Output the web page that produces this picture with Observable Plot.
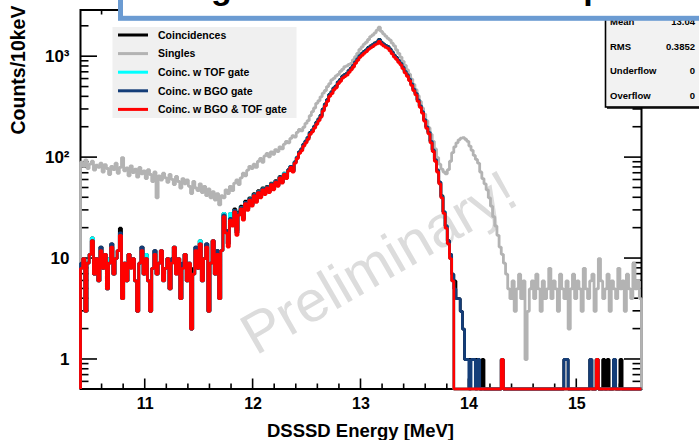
<!DOCTYPE html>
<html>
<head>
<meta charset="utf-8">
<script src="https://cdn.jsdelivr.net/npm/d3@7"></script>
<script src="https://cdn.jsdelivr.net/npm/@observablehq/plot@0.6"></script>
<style>
  body { margin: 0; background: #fff; }
  #chart svg { display: block; }
</style>
</head>
<body>
<div id="chart"></div>
<script>
// DSSSD energy spectra: 20 keV bins starting at 10.40 MeV (260 bins up to 15.60 MeV)
const binStart = 10.40;
const binWidth = 0.02;

const singles = [
  90,82,95,78,86,92,75,84,80,88, 72,85,78,68,82,76,88,70,80,100,
  74,79,66,83,71,77,64,80,69,74, 62,76,68,58,72,40,66,60,70,63,
  57,68,61,54,65,58,50,62,55,60, 52,44,58,50,47,55,45,52,42,49,
  40,46,38,44,34,42,
  40,48,44,52,47,56,60,54,63,70, 66,75,82,78,86,80,92,98,90,104,
  110,102,114,108,120,115,128,122,136,145, 140,155,165,160,178,190,
  184,200,218,232,260,285,310,345,366,400, 435,462,505,540,588,610,645,668,715,750,
  795,810,840,860,930,1000,1080,1180,1250,1330, 1390,1480,1580,1640,1720,1830,1960,1780,1680,1600,
  1520,1460,1360,1280,1170,1080,990,900,820,740, 670,600,530,470,410,360,310,270,232,198,
  170,145,122,100,86,77,72,69,76,92, 112,
  128,140,150,156,158,152,145,130,118,105, 96,88,72,62,55,48,40,33,26,21, 17,13,11,9,7,
  5,4,6,3,5,7,4,6,1,3, 5,6,4,7,5,3,6,4,5,8, 4,6,5,3,7,5,4,6,2,5,
  7,4,6,5,3,8,5,4,6,7, 3,5,10,6,4,5,7,3,6,5, 4,8,5,6,3,7,5,4,9,5, 6,4
];

const coincidences = [
  9,10,3,9,11,16,7,10,6,13, 8,11,5,10,14,7,10,12,20,4, 9,6,11,9,10,6,3,9,13,7,
  11,6,3,8,12,7,9,12,7,8, 10,5,10,13,8,10,4,9,11,6, 9,2,8,13,8,15,6,10,14,3,
  9,15,7,12,4,12,
  28,19,14,28,23,31,19,29,33,26, 37,32,40,35,44,38,47,42,50,45, 52,47,56,50,59,54,65,58,70,64,
  76,82,75,91,101,114,
  122,136,146,159,178,188,205,224,242,263, 303,340,376,423,449,491,514,564,596,640,
  664,684,732,773,826,899,961,1029,1076,1129, 1170,1233,1275,1317,1369,1400,1484,1390,1338,1296,
  1264,1191,1113,1035,982,920,867,794,721,669, 606,543,481,437,376,329,288,240,204,180,
  146,120,96,75,57,42,29,21,15,11, 7,
  6,4,4,3,2,1,1,1,1,1, 1,1,0,1,0,0,0,0,0,0, 0,0,1,0,0,0,0,0,0,0,
  0,0,0,0,0,0,0,0,0,0, 0,0,0,0,0,0,0,0,0,0, 0,1,1,0,0,0,0,0,0,0,
  0,0,0,1,0,0,1,0,0,1, 0,1,0,0,1,0,0,1,0,0, 0,0,0,0,0,0,0
];

const coincTOF = [
  8,10,3,9,11,16,7,10,6,12, 8,11,5,10,13,7,10,12,17,4, 9,6,11,8,10,6,3,9,12,7,
  11,6,3,8,11,7,9,12,6,8, 10,5,9,13,8,10,4,8,11,6, 9,2,7,12,8,15,6,10,13,3,
  9,15,7,11,4,12,
  28,18,14,28,22,30,18,28,32,25, 36,31,39,34,43,37,46,41,49,44, 51,46,55,49,58,53,64,57,70,63,
  75,82,74,90,100,112,
  120,133,144,156,174,185,201,219,238,258, 297,333,369,415,441,482,504,554,584,627,
  651,671,718,759,810,882,943,1010,1056,1107, 1148,1210,1251,1292,1343,1374,1456,1363,1312,1271,
  1240,1169,1092,1015,964,902,851,779,707,656, 595,533,472,428,369,323,283,236,200,176,
  144,118,94,74,56,41,29,21,14,10, 6,
  0,0,0,0,0,0,0,0,0,0, 0,0,0,0,0,0,0,0,0,0, 0,0,1,0,0,0,0,0,0,0,
  0,0,0,0,0,0,0,0,0,0, 0,0,0,0,0,0,0,0,0,0, 0,0,0,0,0,0,0,0,0,0,
  0,0,0,0,0,0,1,0,0,0, 0,0,0,0,0,0,0,0,0,0, 0,0,0,0,0,0,0
];

const coincBGO = [
  9,10,3,9,11,15,7,10,6,13, 8,11,5,9,14,7,10,12,18,4, 9,6,11,9,10,6,3,9,13,7,
  10,6,3,8,12,7,9,12,6,8, 10,5,10,13,7,10,4,9,11,6, 9,2,7,13,8,14,6,10,14,3,
  9,15,7,12,4,12,
  27,19,14,25,22,30,18,28,32,25, 36,31,39,34,43,37,46,41,49,44, 51,46,55,49,58,53,64,57,69,63,
  76,82,73,90,100,113,
  121,135,145,157,176,186,203,221,240,261, 300,336,373,419,445,486,509,559,590,633,
  657,678,725,766,818,890,952,1019,1066,1118, 1159,1221,1263,1304,1356,1387,1470,1377,1325,1283,
  1252,1180,1102,1025,973,911,859,787,714,662, 600,538,476,433,373,326,286,238,202,178,
  145,119,95,75,57,41,29,21,15,11, 7,
  5,4,4,3,2,1,1,0,1,1, 0,1,0,0,0,0,0,0,0,0, 0,0,1,0,0,0,0,0,0,0,
  0,0,0,0,0,0,0,0,0,0, 0,0,0,0,0,0,0,0,0,0, 0,1,1,0,0,0,0,0,0,0,
  0,0,0,1,0,0,1,0,0,0, 0,0,0,0,1,0,0,0,0,0, 0,0,0,0,0,0,0
];

const coincBGOTOF = [
  8,10,3,9,11,15,7,10,6,12, 8,11,5,9,13,7,10,12,17,4, 9,6,11,8,10,6,3,9,12,7,
  10,6,3,8,11,7,9,12,6,8, 10,5,9,13,7,10,4,8,11,6, 9,2,7,12,8,14,6,10,13,3,
  9,15,7,11,4,12,
  26,18,13,24,21,29,17,27,31,24, 35,30,38,33,42,36,45,40,48,43, 50,45,54,48,57,52,63,56,68,62,
  74,80,72,88,98,110,
  117,130,140,152,170,180,196,214,232,252, 290,325,360,405,430,470,492,540,570,612,
  635,655,700,740,790,860,920,985,1030,1080, 1120,1180,1220,1260,1310,1340,1420,1330,1280,1240,
  1210,1140,1065,990,940,880,830,760,690,640, 580,520,460,418,360,315,276,230,195,172,
  140,115,92,72,55,40,28,20,14,10, 6,
  0,0,0,0,0,0,0,0,0,0, 0,0,0,0,0,0,0,0,0,0, 0,0,1,0,0,0,0,0,0,0,
  0,0,0,0,0,0,0,0,0,0, 0,0,0,0,0,0,0,0,0,0, 0,0,0,0,0,0,0,0,0,0,
  0,0,0,0,0,0,1,0,0,0, 0,0,0,0,0,0,0,0,0,0, 0,0,0,0,0,0,0
];

const seriesNames = ["Coincidences", "Singles", "Coinc. w TOF gate", "Coinc. w BGO gate", "Coinc. w BGO & TOF gate"];
const seriesColors = ["#000000", "#b3b3b3", "#00ffff", "#143d78", "#ff0000"];
const seriesCounts = [coincidences, singles, coincTOF, coincBGO, coincBGOTOF];

const xTickValues = [11, 12, 13, 14, 15];
const xTickLabels = ["11", "12", "13", "14", "15"];
const xMinorTicks = [10.6, 10.8, 11.2, 11.4, 11.6, 11.8, 12.2, 12.4, 12.6, 12.8, 13.2, 13.4, 13.6, 13.8,
                     14.2, 14.4, 14.6, 14.8, 15.2, 15.4];
const yTickValues = [1, 10, 100, 1000];
const yTickLabels = ["1", "10", "10²", "10³"];
const yMinorTicks = [0.6, 0.7, 0.8, 0.9, 2, 3, 4, 5, 6, 7, 8, 9, 20, 30, 40, 50, 60, 70, 80, 90,
                     200, 300, 400, 500, 600, 700, 800, 900, 2000];

const statNames = ["Mean", "RMS", "Underflow", "Overflow"];
const statValues = ["13.04", "0.3852", "0", "0"];

const yMin = 0.51, yMax = 2900;
const font = "'Liberation Sans', Arial, Helvetica, sans-serif";

// ROOT-style step outline: rises from the floor at the first edge, drops back at the last edge
function steps(counts) {
  const pts = [{e: binStart, c: yMin}];
  counts.forEach((c, i) => pts.push({e: binStart + i * binWidth, c: c > 0 ? c : yMin}));
  const end = binStart + counts.length * binWidth;
  const last = counts[counts.length - 1];
  pts.push({e: end, c: last > 0 ? last : yMin});
  pts.push({e: end, c: yMin});
  return pts;
}

const chart = Plot.plot({
  width: 699,
  height: 440,
  marginLeft: 80,
  marginRight: 58,
  marginTop: 9.5,
  marginBottom: 51.5,
  style: {fontFamily: font, background: "#ffffff"},
  x: {domain: [10.4, 15.6]},
  y: {type: "log", domain: [yMin, yMax]},
  marks: [
    Plot.text(["Preliminary!"], {
      frameAnchor: "middle", dx: 18, dy: 64, rotate: -30,
      fontSize: 58, fill: "#dcdcdc", fontFamily: font
    }),
    Plot.frame({stroke: "#000", strokeWidth: 2}),
    ...seriesCounts.map((counts, k) =>
      Plot.line(steps(counts), {
        x: "e", y: "c", curve: "step-after",
        stroke: seriesColors[k], strokeWidth: 2.8, strokeLinejoin: "miter", strokeLinecap: "butt"
      })
    ),
    Plot.axisX({
      ticks: xTickValues, tickFormat: d => xTickLabels[xTickValues.indexOf(d)],
      tickSize: 0, tickPadding: 8.5, fontSize: 16, fontWeight: "bold", label: null
    }),
    Plot.axisY({
      ticks: yTickValues, tickFormat: d => yTickLabels[yTickValues.indexOf(d)],
      tickSize: 0, tickPadding: 11, fontSize: 17, fontWeight: "bold", label: null
    })
  ]
});

document.getElementById("chart").appendChild(chart);

const svg = d3.select(chart);
const sx = chart.scale("x"), sy = chart.scale("y");
const [frameLeft, frameRight] = sx.range;
const [frameBottom, frameTop] = sy.range;

// inward ticks on all four sides, placed under the histograms
const tickLayer = svg.insert("g", 'g[aria-label="line"]')
  .attr("stroke", "#000").attr("stroke-width", 1.6).attr("fill", "none");
const xTicksAll = [...xTickValues.map(v => [v, 10]), ...xMinorTicks.map(v => [v, 5])];
xTicksAll.forEach(([v, len]) => {
  const X = sx.apply(v);
  tickLayer.append("line").attr("x1", X).attr("x2", X).attr("y1", frameBottom).attr("y2", frameBottom - len);
  tickLayer.append("line").attr("x1", X).attr("x2", X).attr("y1", frameTop).attr("y2", frameTop + len);
});
const yTicksAll = [...yTickValues.map(v => [v, 17]), ...yMinorTicks.map(v => [v, 8.5])];
yTicksAll.forEach(([v, len]) => {
  const Y = sy.apply(v);
  tickLayer.append("line").attr("x1", frameLeft).attr("x2", frameLeft + len).attr("y1", Y).attr("y2", Y);
  tickLayer.append("line").attr("x1", frameRight).attr("x2", frameRight - len).attr("y1", Y).attr("y2", Y);
});

// axis titles
svg.append("text")
  .attr("x", (frameLeft + frameRight) / 2).attr("y", 437)
  .attr("text-anchor", "middle").attr("font-family", font)
  .attr("font-weight", "bold").attr("font-size", 18.5).attr("fill", "#000")
  .text("DSSSD Energy [MeV]");
svg.append("text")
  .attr("transform", "translate(25,70) rotate(-90)")
  .attr("text-anchor", "middle").attr("font-family", font)
  .attr("font-weight", "bold").attr("font-size", 19.5).attr("fill", "#000")
  .text("Counts/10keV");

// legend
const legend = svg.append("g").attr("font-family", font).attr("text-anchor", "start");
legend.append("rect").attr("x", 112.5).attr("y", 27).attr("width", 184).attr("height", 91).attr("fill", "#f0f0f0");
seriesNames.forEach((name, k) => {
  const ly = 35 + 18.6 * k;
  legend.append("line").attr("x1", 118).attr("x2", 148).attr("y1", ly).attr("y2", ly)
    .attr("stroke", seriesColors[k]).attr("stroke-width", 3);
  legend.append("text").attr("x", 158).attr("y", ly + 3.8).attr("text-anchor", "start")
    .attr("font-weight", "bold").attr("font-size", 10.5).attr("fill", "#000").text(name);
});

// statistics box
const stats = svg.append("g").attr("font-family", font);
stats.append("rect").attr("x", 605.5).attr("y", -10).attr("width", 110).attr("height", 117)
  .attr("fill", "#f2f2f2").attr("stroke", "#000").attr("stroke-width", 1.6);
stats.append("line").attr("x1", 607).attr("x2", 699).attr("y1", 108).attr("y2", 108)
  .attr("stroke", "#000").attr("stroke-width", 1.6);
statNames.forEach((name, k) => {
  const rowY = 25 + 24.5 * k;
  stats.append("text").attr("x", 610).attr("y", rowY).attr("text-anchor", "start").attr("font-weight", "bold")
    .attr("font-size", 9.5).attr("fill", "#000").text(name);
  stats.append("text").attr("x", 695).attr("y", rowY).attr("text-anchor", "end").attr("font-weight", "bold")
    .attr("font-size", 9.5).attr("fill", "#000").text(statValues[k]);
});

// title pave, running off the top edge
const titlePave = svg.append("g").attr("font-family", font);
titlePave.append("rect").attr("x", 120.5).attr("y", -40).attr("width", 640).attr("height", 58.3)
  .attr("fill", "#ffffff").attr("stroke", "#6b9bd2").attr("stroke-width", 5);
titlePave.append("text").attr("x", 158).attr("y", -1).attr("text-anchor", "start").attr("font-weight", "bold")
  .attr("font-size", 34).attr("fill", "#000").text("Singles and coincidence spectra");
</script>
</body>
</html>
